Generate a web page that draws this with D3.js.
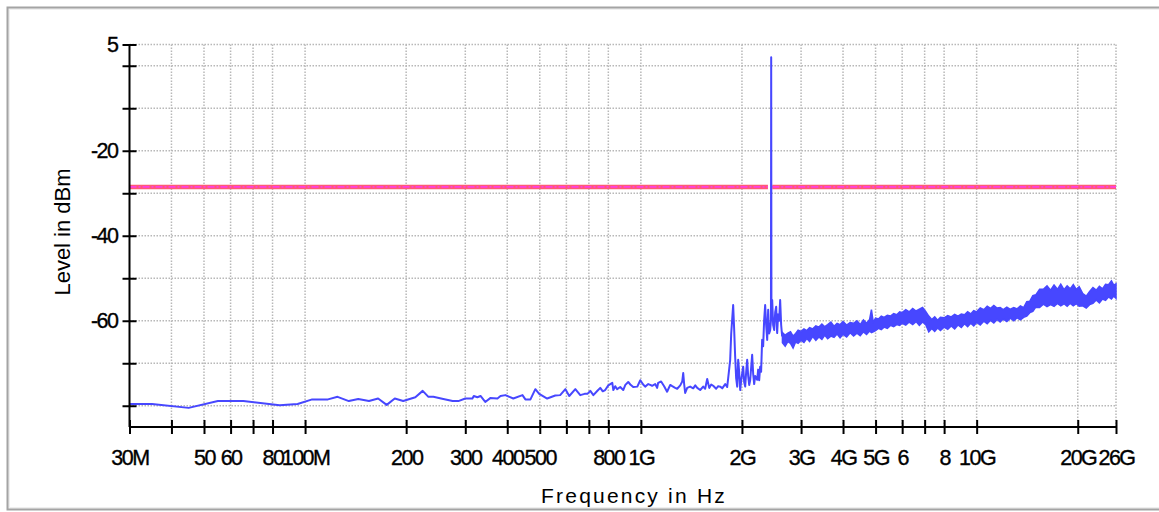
<!DOCTYPE html>
<html>
<head>
<meta charset="utf-8">
<script src="https://cdn.jsdelivr.net/npm/d3@7"></script>
<style>
  html, body { margin: 0; padding: 0; background: #fff; }
  svg { display: block; }
  .axis text { font-family: 'Liberation Sans', Arial, sans-serif; font-size: 21.5px; letter-spacing: -1.5px; fill: #000; stroke: #000; stroke-width: 0.35px; }
  .title { font-family: 'Liberation Sans', Arial, sans-serif; font-size: 21px; fill: #000; }
</style>
</head>
<body>
<div id="wrapper"></div>
<script>
// frequency axis (MHz)
const xTicks = [30, 40, 50, 60, 70, 80, 100, 200, 300, 400, 500, 600, 700, 800, 1000,
    2000, 3000, 4000, 5000, 6000, 7000, 8000, 10000, 20000, 26000];
const xLabels = [[30, '30M'], [50, '50'], [60, '60'], [80, '80'], [100, '100M'], [200, '200'],
    [300, '300'], [400, '400'], [500, '500'], [800, '800'], [1000, '1G'], [2000, '2G'],
    [3000, '3G'], [4000, '4G'], [5000, '5G'], [6000, '6'], [8000, '8'], [10000, '10G'],
    [20000, '20G'], [26000, '26G']];

// level axis (dBm)
const yTicks = [5, 0, -10, -20, -30, -40, -50, -60, -70, -80];
const yLabels = [5, -20, -40, -60];

// limit line (dBm) and the frequency spans it is drawn over
const limitLevel = -28.5;
const limitSpans = [[30, 2390], [2462, 26000]];

// measured trace, [MHz, dBm]
const sweepLow = [
    [30, -79.6], [35, -79.6], [45, -80.5], [55, -78.9], [65.5, -78.9], [84, -79.9], [95, -79.6],
    [105, -78.5], [117, -78.5], [125, -77.9], [135, -78.9], [144, -78.4], [155, -78.9], [165, -78.3],
    [175, -79.8], [185, -78.3], [196, -78.9], [213, -78.0], [224, -76.5], [233, -77.9], [241, -77.9],
    [258, -78.4], [275, -78.9], [286, -78.9], [300, -78.3], [315, -78.3], [318, -77.7], [326, -78.0],
    [333, -77.7], [344, -79.1], [356, -78.2], [374, -78.3], [382, -77.7], [395, -77.5], [417, -78.3],
    [444, -77.5], [453, -78.5], [469, -78.5], [485, -76.1], [498, -77.2], [526, -78.3], [556, -77.6],
    [575, -77.5], [596, -76.1], [612, -77.7], [638, -76.1], [660, -77.5], [680, -77.2], [693, -77.2],
    [707, -76.5], [722, -77.5], [740, -76.6], [757, -75.8]
];
const sweepMid = [
    [770, -76.6], [783, -76.3], [800, -75.2], [811, -74.9], [822, -74.6], [828, -76.3], [839, -75.4],
    [850, -76.1], [868, -75.6], [886, -76.3], [899, -75.1], [917, -74.4], [930, -75.0], [949, -75.6],
    [976, -75.5], [996, -74.0], [1016, -75.0], [1030, -75.5], [1052, -74.9], [1066, -75.1], [1080, -75.3],
    [1103, -74.9], [1118, -75.8], [1126, -74.6], [1149, -74.3], [1173, -75.4], [1197, -76.7], [1223, -75.1],
    [1240, -75.4], [1265, -75.8], [1283, -76.0], [1310, -75.2], [1328, -74.3], [1337, -72.3], [1346, -75.0],
    [1355, -77.0], [1374, -75.8], [1402, -75.5], [1432, -75.9], [1452, -75.2], [1472, -75.8], [1502, -76.3],
    [1533, -75.5], [1554, -76.0], [1576, -73.7], [1598, -75.8], [1620, -75.0], [1642, -75.3], [1676, -76.0],
    [1699, -75.4], [1723, -75.5], [1747, -75.9], [1783, -74.9], [1807, -75.6], [1820, -73.5], [1845, -69.2],
    [1858, -63.0], [1883, -56.3], [1896, -62.0], [1909, -68.4], [1922, -73.5], [1936, -75.5], [1949, -69.2],
    [1962, -72.0], [1976, -76.3], [1990, -74.0], [2017, -70.8], [2031, -74.5], [2045, -75.5], [2059, -72.0],
    [2073, -69.2], [2087, -73.0], [2102, -75.1], [2116, -74.0], [2145, -68.0], [2160, -72.5], [2175, -74.9],
    [2190, -73.0], [2220, -73.9], [2235, -71.5], [2251, -74.0], [2266, -70.8], [2281, -72.0], [2297, -64.5],
    [2313, -66.0], [2329, -59.8], [2345, -56.3], [2361, -61.0], [2378, -64.5], [2394, -57.4], [2410, -63.0],
    [2427, -62.2], [2440, -60.0], [2444, 2.0], [2448, -57.0], [2461, -55.1], [2477, -61.0], [2495, -62.2],
    [2512, -58.0], [2529, -56.7], [2546, -62.9], [2563, -58.5], [2581, -60.0], [2599, -55.1], [2617, -61.0],
    [2635, -63.7]
];
// dense part of the sweep, [MHz, min dBm, max dBm]
const sweepHigh = [
    [2640, -65.2, -62.8], [2690, -66.0, -63.4], [2740, -64.9, -62.9], [2790, -65.3, -62.6], [2840, -66.4, -63.6],
    [2890, -65.0, -63.0], [2940, -65.3, -62.2], [3000, -64.6, -62.5], [3060, -65.1, -61.9], [3120, -64.2, -62.3],
    [3180, -64.9, -61.6], [3250, -63.7, -61.9], [3320, -64.6, -61.2], [3390, -63.8, -61.5], [3460, -64.4, -60.8],
    [3530, -63.4, -61.4], [3600, -64.2, -60.9], [3680, -63.6, -60.3], [3760, -63.9, -61.3], [3840, -63.1, -60.6],
    [3920, -64.0, -60.9], [4000, -63.2, -60.2], [4100, -63.8, -61.0], [4200, -62.8, -60.4], [4300, -63.6, -60.6],
    [4400, -62.9, -60.0], [4500, -63.5, -60.9], [4600, -62.6, -59.8], [4700, -63.2, -60.6], [4800, -62.4, -59.7],
    [4860, -62.8, -57.4], [4920, -62.6, -60.3], [5000, -62.3, -59.4], [5100, -61.8, -59.6], [5200, -62.1, -58.9],
    [5300, -61.5, -59.2], [5420, -61.8, -58.7], [5540, -61.1, -58.9], [5660, -61.4, -58.3], [5780, -60.9, -58.6],
    [5900, -61.1, -57.9], [6000, -60.6, -58.1], [6150, -61.0, -57.4], [6300, -60.3, -57.9], [6450, -60.9, -57.1],
    [6600, -60.2, -57.7], [6750, -61.1, -57.3], [6900, -60.3, -56.9], [7050, -60.9, -57.8], [7200, -62.6, -58.9],
    [7350, -61.8, -59.7], [7500, -62.5, -59.1], [7650, -61.7, -59.9], [7800, -62.3, -59.2], [8000, -61.5, -59.3],
    [8200, -62.0, -58.8], [8400, -61.2, -59.1], [8600, -61.9, -58.5], [8800, -61.0, -58.9], [9000, -61.6, -58.4],
    [9200, -60.7, -58.6], [9400, -61.4, -57.9], [9600, -60.6, -58.4], [9800, -61.2, -57.6], [10000, -60.4, -57.9],
    [10250, -61.0, -57.0], [10500, -60.1, -57.4], [10750, -60.7, -56.6], [11000, -59.9, -57.1], [11250, -60.5, -56.4],
    [11500, -59.7, -57.0], [11750, -60.3, -56.9], [12000, -59.6, -57.4], [12300, -60.2, -56.8], [12600, -59.4, -57.3],
    [12900, -60.0, -56.9], [13200, -59.3, -57.2], [13500, -59.8, -56.5], [13800, -59.2, -56.9], [14100, -58.9, -55.5],
    [14400, -58.1, -55.4], [14700, -57.8, -54.1], [15000, -56.8, -53.9], [15400, -56.9, -52.6], [15800, -56.1, -52.6],
    [16200, -56.7, -51.8], [16600, -56.2, -52.8], [17000, -56.6, -51.6], [17400, -55.9, -52.6], [17800, -56.5, -51.4],
    [18200, -56.0, -52.7], [18600, -56.6, -51.8], [19000, -55.9, -52.5], [19400, -56.5, -51.5], [19800, -56.0, -52.6],
    [20200, -56.6, -52.0], [20700, -56.5, -53.6], [21200, -57.0, -54.2], [21700, -56.2, -53.1], [22200, -55.9, -52.2],
    [22700, -55.1, -52.8], [23200, -55.8, -51.9], [23700, -54.9, -52.5], [24200, -55.2, -51.4], [24700, -54.4, -51.5],
    [25200, -54.9, -50.6], [25600, -54.2, -51.6], [26000, -54.7, -51.3]
];

const width = 1159;
const height = 512;
const margin = { top: 44.5, right: 43, bottom: 85, left: 129.5 };
const boundWidth = width - margin.left - margin.right;
const boundHeight = height - margin.top - margin.bottom;

const svg = d3.select('#wrapper')
    .append('svg')
    .attr('width', width)
    .attr('height', height);

// outer frame
svg.append('rect')
    .attr('x', 9).attr('y', 9).attr('width', width).attr('height', 499)
    .attr('fill', 'none').attr('stroke', '#efefef').attr('stroke-width', 2);
svg.append('rect')
    .attr('x', 7.5).attr('y', 7.5).attr('width', width).attr('height', 502)
    .attr('fill', 'none').attr('stroke', '#a4a4a4').attr('stroke-width', 2);

const bounds = svg.append('g')
    .attr('transform', `translate(${margin.left}, ${margin.top})`);

const xScale = d3.scaleLog()
    .domain([30, 26000])
    .range([0, boundWidth]);

const yScale = d3.scaleLinear()
    .domain([-85, 5])
    .range([boundHeight, 0]);

// dotted grid
const grid = bounds.append('g')
    .attr('stroke', '#b8b8b8')
    .attr('stroke-width', 1.5)
    .attr('stroke-dasharray', '1.5,1.5');

grid.selectAll('.vgrid')
    .data(xTicks.slice(1))
    .join('line')
    .attr('x1', d => xScale(d)).attr('x2', d => xScale(d))
    .attr('y1', 0).attr('y2', boundHeight);

grid.selectAll('.hgrid')
    .data(yTicks)
    .join('line')
    .attr('x1', 0).attr('x2', boundWidth)
    .attr('y1', d => yScale(d)).attr('y2', d => yScale(d));

// limit line
const limitG = bounds.append('g');
limitG.selectAll('.limit-base')
    .data(limitSpans)
    .join('line')
    .attr('x1', d => xScale(d[0])).attr('x2', d => xScale(d[1]))
    .attr('y1', yScale(limitLevel)).attr('y2', yScale(limitLevel))
    .attr('stroke', '#ff5a76').attr('stroke-width', 4.5);
limitG.selectAll('.limit-top')
    .data(limitSpans)
    .join('line')
    .attr('x1', d => xScale(d[0])).attr('x2', d => xScale(d[1]))
    .attr('y1', yScale(limitLevel)).attr('y2', yScale(limitLevel))
    .attr('stroke', '#ff3fe0').attr('stroke-width', 1.6)
    .attr('stroke-dasharray', '7,2,2,2');

// trace
const traceColor = '#4747ff';

const lineGenerator = d3.line()
    .x(d => xScale(d[0]))
    .y(d => yScale(d[1]));

bounds.append('path')
    .attr('d', lineGenerator(sweepLow.concat(sweepMid)))
    .attr('fill', 'none')
    .attr('stroke', traceColor)
    .attr('stroke-width', 2)
    .attr('stroke-linejoin', 'round');

const areaGenerator = d3.area()
    .x(d => xScale(d[0]))
    .y0(d => yScale(d[1]))
    .y1(d => yScale(d[2]));

bounds.append('path')
    .attr('d', areaGenerator(sweepHigh))
    .attr('fill', traceColor)
    .attr('stroke', traceColor)
    .attr('stroke-width', 1.5)
    .attr('stroke-linejoin', 'miter');

// axes
const labelMap = new Map(xLabels);
const xAxisGenerator = d3.axisBottom(xScale)
    .tickValues(xTicks)
    .tickFormat(d => labelMap.get(d) || '')
    .tickSize(7)
    .tickSizeOuter(0)
    .tickPadding(16);

const xAxis = bounds.append('g')
    .attr('class', 'axis')
    .attr('transform', `translate(0, ${boundHeight})`)
    .call(xAxisGenerator);

const yAxisGenerator = d3.axisLeft(yScale)
    .tickValues(yTicks)
    .tickFormat(d => yLabels.includes(d) ? d : '')
    .tickSize(7)
    .tickSizeOuter(0)
    .tickPadding(5);

const yAxis = bounds.append('g')
    .attr('class', 'axis')
    .call(yAxisGenerator);

[xAxis, yAxis].forEach(a => {
    a.attr('font-family', null).attr('font-size', null);
    a.select('.domain').attr('stroke', '#000').attr('stroke-width', 2);
    a.selectAll('.tick line').attr('stroke', '#000').attr('stroke-width', 2);
});
xAxis.selectAll('.tick line').attr('y1', -7).attr('y2', 7);
yAxis.selectAll('.tick line').attr('x1', -7).attr('x2', 7);
yAxis.select('.domain').attr('d', `M0,${boundHeight}V0`);
xAxis.select('.domain').attr('d', `M0,0H${boundWidth}`);

// axis titles
svg.append('text')
    .attr('class', 'title')
    .attr('x', 634)
    .attr('y', 503)
    .attr('text-anchor', 'middle')
    .style('letter-spacing', '2.2px')
    .text('Frequency in Hz');

svg.append('text')
    .attr('class', 'title')
    .attr('transform', 'translate(70, 232) rotate(-90)')
    .attr('text-anchor', 'middle')
    .style('font-size', '22px')
    .text('Level in dBm');
</script>
</body>
</html>
